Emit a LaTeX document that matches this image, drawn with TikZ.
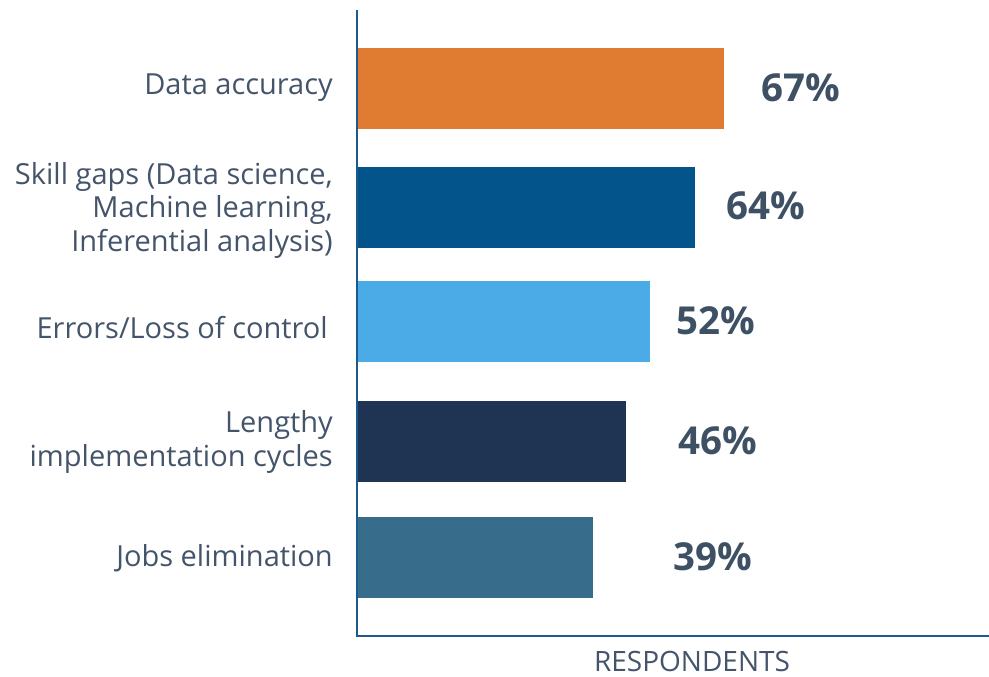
\documentclass[tikz,border=0pt]{standalone}
\usepackage{fontspec}
\setmainfont{Open Sans}
\usepackage{tikz}
\usetikzlibrary{positioning}

\definecolor{axisblue}{HTML}{1B5A8A}
\definecolor{labelgray}{HTML}{44546A}
\definecolor{pctgray}{HTML}{3E5064}
\definecolor{barorange}{HTML}{E07C31}
\definecolor{barblue}{HTML}{02548B}
\definecolor{barlight}{HTML}{4AABE7}
\definecolor{barnavy}{HTML}{1E3452}
\definecolor{barsteel}{HTML}{386C8B}

\begin{document}
\begin{tikzpicture}%
        [x=1pt,
        y=-1pt,
        axis/.style={color=axisblue, line width=2pt},
        cat/.style={anchor=east, align=right, text=labelgray, inner sep=0pt,
                    font=\fontsize{29}{33.5}\selectfont},
        pct/.style={text=pctgray, inner sep=0pt,
                    font=\fontsize{38.5}{40}\bfseries\selectfont}]

    \useasboundingbox (0,0) rectangle (989,677);
    %% Drawing the axes
    \coordinate (o) at (357,636);
    \coordinate (ytop) at (357,10);
    \coordinate (xend) at (989,636);
    \draw[axis] (ytop) -- (o) -- (xend);
    \node[text=labelgray, inner sep=0pt, font=\fontsize{28}{30}\selectfont]
        (resp) at (692,661) {RESPONDENTS};
    %%
    %% Drawing the bars
    %%
    \foreach \top/\right/\col in {48/724/barorange, 167/695/barblue,
        281/650/barlight, 401/626/barnavy, 517/593/barsteel}
      \fill[\col] (358,\top) rectangle (\right,\top+81);
    %%
    %% Category labels
    %%
    \node[cat] (acc) at (333,88) {Data accuracy};
    \node[cat] (skill) at (333,210) {Skill gaps (Data science,\\Machine learning,\\Inferential analysis)};
    \node[cat] (err) at (328,328) {Errors/Loss of control};
    \node[cat] (len) at (333,442) {Lengthy\\implementation cycles};
    \node[cat] (jobs) at (333,558) {Jobs elimination};
    %%
    %% Percentages
    %%
    \node[pct] (p67) at (801,88) {67\%};
    \node[pct] (p64) at (766,206) {64\%};
    \node[pct] (p52) at (716,321) {52\%};
    \node[pct] (p46) at (718,441) {46\%};
    \node[pct] (p39) at (713,557) {39\%};
    %%
\end{tikzpicture}
\end{document}
